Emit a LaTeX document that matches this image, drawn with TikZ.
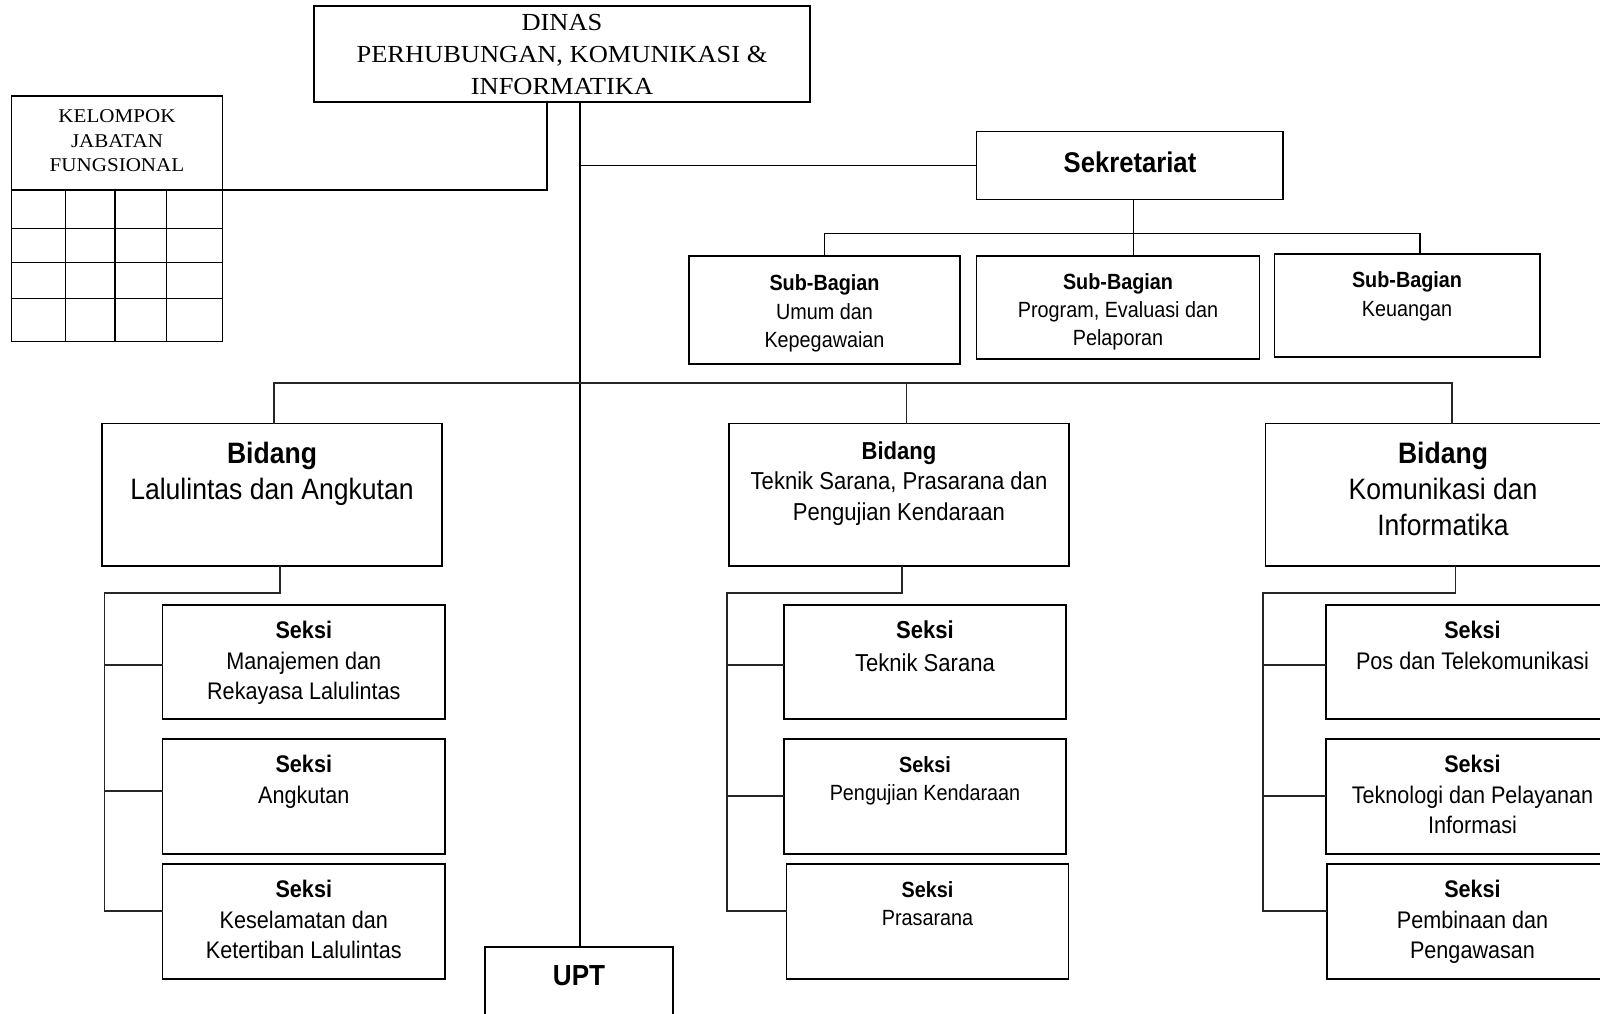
\documentclass[tikz,border=0pt]{standalone}
\usepackage{fontspec}
\newfontfamily\orgserif[FakeStretch=1.08]{Liberation Serif}
\newfontfamily\orgsans[FakeStretch=0.9]{Liberation Sans}

% box given by its corners (x1,y1) and (x2,y2), y growing downward
\newcommand{\orgbox}[5]{%
  \node[boxline, minimum width={(#4-#2)*1pt}, minimum height={(#5-#3)*1pt}]
    (#1) at ({(#2+#4)/2},{(#3+#5)/2}) {};}
% text block: name, centre x, top y, font size, line spacing, text
\newcommand{\sanstext}[6]{%
  \node[boxtext, font=\orgsans\fontsize{#4}{#5}\selectfont] (#1) at (#2,#3) {#6};}
\newcommand{\seriftext}[6]{%
  \node[boxtext, font=\orgserif\fontsize{#4}{#5}\selectfont] (#1) at (#2,#3) {#6};}

\begin{document}
\begin{tikzpicture}[x=1pt,y=-1pt,
  boxline/.style={draw=black, line width=1.7pt, fill=white, inner sep=0pt, outer sep=0pt},
  conn/.style={draw=black, line width=1.4pt},
  thinconn/.style={draw=black!85, line width=1.1pt},
  gridline/.style={draw=black, line width=1.3pt},
  boxtext/.style={anchor=north, inner sep=0pt, align=center}]
\useasboundingbox (0,0) rectangle (1600,1014);
\clip (0,0) rectangle (1600,1014);
\fill[white] (0,0) rectangle (1600,1014);

% ---- boxes ----
\orgbox{dinas}{314}{6}{810}{102}
\orgbox{kel}{11.5}{96}{222.5}{341.5}
\orgbox{sek}{976.5}{131.5}{1283}{199.5}
\orgbox{sbA}{689}{256}{960}{364}
\orgbox{sbB}{976.5}{256}{1259.5}{359}
\orgbox{sbC}{1274.5}{254}{1540}{357}
\orgbox{bdA}{102}{423.5}{442}{566}
\orgbox{bdB}{728.7}{423.5}{1069}{566}
\orgbox{bdC}{1265.4}{423.5}{1621}{566}
\orgbox{skA1}{162.5}{605}{445}{719}
\orgbox{skA2}{162.5}{739}{445}{854}
\orgbox{skA3}{162.5}{864}{445}{979}
\orgbox{skB1}{784}{605}{1066}{719}
\orgbox{skB2}{784}{739}{1066}{854}
\orgbox{skB3}{786.5}{864}{1068.5}{979}
\orgbox{skC1}{1326}{605}{1619}{719}
\orgbox{skC2}{1326}{739}{1619}{854}
\orgbox{skC3}{1327}{864}{1619}{979}
\orgbox{upt}{485}{947}{673}{1030}

% ---- grid of the functional group box ----
\draw[gridline] (11.5,190) -- (222.5,190);
\foreach \ry in {228.7,262.3,298.3} \draw[gridline] (11.5,\ry) -- (222.5,\ry);
\foreach \cx in {65.4,115,166.8} \draw[gridline] (\cx,190) -- (\cx,341.5);

% ---- connectors ----
\coordinate (kj) at (547,190);
\draw[conn] (dinas.south -| kj) -- (kj) -- (kel.east |- kj);

\coordinate (spine) at (580,383);
\draw[conn] (dinas.south -| spine) -- (upt.north -| spine);
\draw[conn] (sek.west -| spine) -- (sek.west);

\coordinate (sekbar) at (1133.5,233.5);
\coordinate (sbcdrop) at (1420,233.5);
\draw[conn] (sek.south -| sekbar) -- (sbB.north -| sekbar);
\draw[conn] (sbA.north) |- (sbcdrop) -- (sbC.north -| sbcdrop);

\coordinate (bdbarL) at (274,383);
\coordinate (bdbarR) at (1452,383);
\coordinate (bdBdrop) at (906.7,383);
\draw[thinconn] (bdA.north -| bdbarL) -- (bdbarL) -- (bdbarR) -- (bdC.north -| bdbarR);
\draw[thinconn] (bdBdrop) -- (bdB.north -| bdBdrop);

% section brackets
\coordinate (brA) at (280,593);   \coordinate (brAL) at (104.5,593);
\coordinate (brA1) at (104.5,665); \coordinate (brA2) at (104.5,791); \coordinate (brA3) at (104.5,911);
\draw[thinconn] (bdA.south -| brA) -- (brA) -- (brAL) -- (brA3) -- (skA3.west |- brA3);
\draw[thinconn] (brA1) -- (skA1.west |- brA1);
\draw[thinconn] (brA2) -- (skA2.west |- brA2);

\coordinate (brB) at (902,593);   \coordinate (brBL) at (727,593);
\coordinate (brB1) at (727,665); \coordinate (brB2) at (727,796); \coordinate (brB3) at (727,911);
\draw[thinconn] (bdB.south -| brB) -- (brB) -- (brBL) -- (brB3) -- (skB3.west |- brB3);
\draw[thinconn] (brB1) -- (skB1.west |- brB1);
\draw[thinconn] (brB2) -- (skB2.west |- brB2);

\coordinate (brC) at (1455.5,593);   \coordinate (brCL) at (1263,593);
\coordinate (brC1) at (1263,665); \coordinate (brC2) at (1263,796); \coordinate (brC3) at (1263,911);
\draw[thinconn] (bdC.south -| brC) -- (brC) -- (brCL) -- (brC3) -- (skC3.west |- brC3);
\draw[thinconn] (brC1) -- (skC1.west |- brC1);
\draw[thinconn] (brC2) -- (skC2.west |- brC2);

% ---- texts ----
\seriftext{tDinas}{562}{13.6}{24.5}{32}{DINAS\\PERHUBUNGAN, KOMUNIKASI \&\\INFORMATIKA}
\seriftext{tKel}{117}{109.5}{19.5}{24.5}{KELOMPOK\\JABATAN\\FUNGSIONAL}
\sanstext{tSek}{1130}{151.8}{28.5}{34}{\textbf{Sekretariat}}
\sanstext{tSbA}{824.5}{274.7}{22}{28.5}{\textbf{Sub-Bagian}\\Umum dan\\Kepegawaian}
\sanstext{tSbB}{1118}{273.8}{22}{28}{\textbf{Sub-Bagian}\\Program, Evaluasi dan\\Pelaporan}
\sanstext{tSbC}{1407}{271.2}{22}{29}{\textbf{Sub-Bagian}\\Keuangan}
\sanstext{tBdA}{272}{442.3}{29.5}{36}{\textbf{Bidang}\\Lalulintas dan Angkutan}
\sanstext{tBdB}{899}{441.4}{24.5}{30.5}{\textbf{Bidang}\\Teknik Sarana, Prasarana dan\\Pengujian Kendaraan}
\sanstext{tBdC}{1443}{442.3}{29.5}{36}{\textbf{Bidang}\\Komunikasi dan\\Informatika}
\sanstext{tSkA1}{303.8}{621.2}{24}{30.5}{\textbf{Seksi}\\Manajemen dan\\Rekayasa Lalulintas}
\sanstext{tSkA2}{303.8}{755.2}{24}{30.5}{\textbf{Seksi}\\Angkutan}
\sanstext{tSkA3}{303.8}{880.2}{24}{30.5}{\textbf{Seksi}\\Keselamatan dan\\Ketertiban Lalulintas}
\sanstext{tSkB1}{925}{620.8}{24.5}{32.5}{\textbf{Seksi}\\Teknik Sarana}
\sanstext{tSkB2}{925}{756.4}{22}{28}{\textbf{Seksi}\\Pengujian Kendaraan}
\sanstext{tSkB3}{927.5}{880.9}{22}{28.5}{\textbf{Seksi}\\Prasarana}
\sanstext{tSkC1}{1472.5}{621.2}{24}{30.5}{\textbf{Seksi}\\Pos dan Telekomunikasi}
\sanstext{tSkC2}{1472.5}{755.2}{24}{30.5}{\textbf{Seksi}\\Teknologi dan Pelayanan\\Informasi}
\sanstext{tSkC3}{1472.5}{880.2}{24}{30.5}{\textbf{Seksi}\\Pembinaan dan\\Pengawasan}
\sanstext{tUpt}{579}{965.8}{29}{34}{\textbf{UPT}}
\end{tikzpicture}
\end{document}
